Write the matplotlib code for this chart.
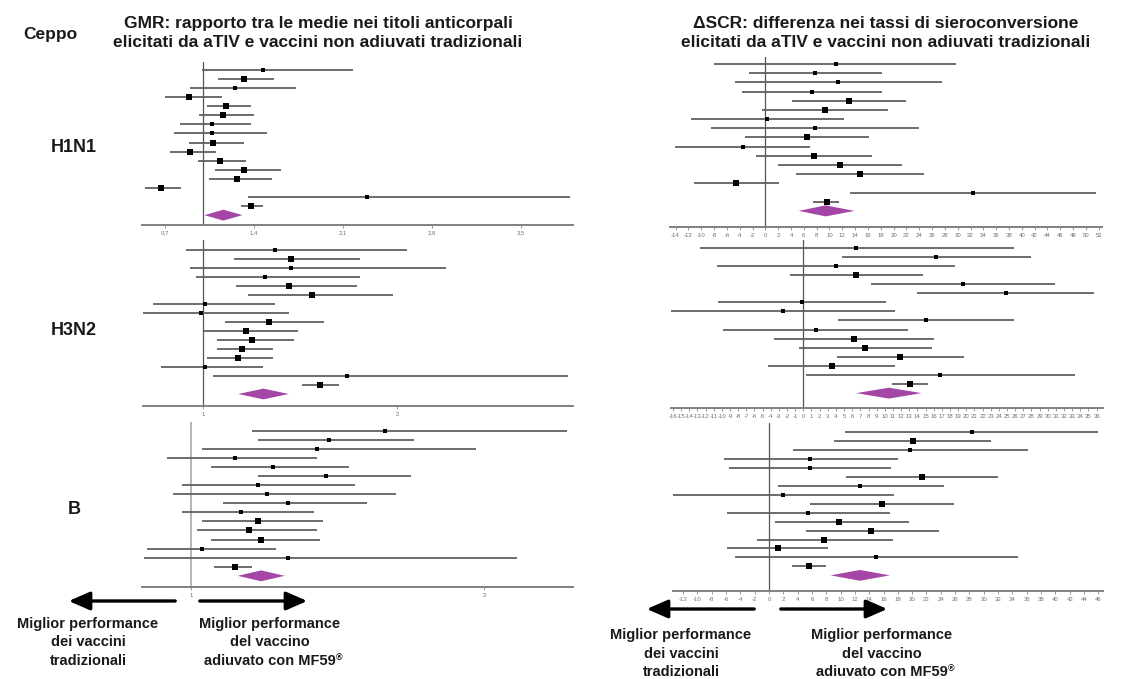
import matplotlib
matplotlib.use("Agg")
import matplotlib.pyplot as plt
from matplotlib.text import Annotation
import numpy as np

plt.rcParams['font.family'] = ['Liberation Sans', 'DejaVu Sans']

# ---- data: 15 studies + pooled estimate (lo, point, hi) and diamond (lo, centre, hi)
# H1N1 - GMR
h1_gmr_lo = [0.99, 1.12, 0.90, 0.70, 1.03, 0.97, 0.82, 0.77, 0.89, 0.74, 0.96, 1.09, 1.05, 0.54, 1.35, 1.30]
h1_gmr_pt = [1.47, 1.32, 1.25, 0.89, 1.18, 1.16, 1.07, 1.07, 1.08, 0.90, 1.13, 1.32, 1.27, 0.67, 2.29, 1.38]
h1_gmr_hi = [2.18, 1.56, 1.73, 1.15, 1.38, 1.40, 1.38, 1.50, 1.32, 1.10, 1.34, 1.61, 1.54, 0.83, 3.89, 1.47]
h1_gmr_w = [1, 2, 1, 2, 2, 2, 1, 1, 2, 2, 2, 2, 2, 2, 1, 3]
h1_gmr_dia = [1.01, 1.16, 1.31]
# H1N1 - delta SCR
h1_scr_lo = [-8.0, -2.6, -4.7, -3.6, 4.1, -0.5, -11.6, -8.5, -3.2, -14.1, -1.4, 2.0, 4.8, -11.1, 13.2, 7.4]
h1_scr_pt = [11.0, 7.8, 11.4, 7.2, 13.0, 9.3, 0.3, 7.8, 6.5, -3.5, 7.6, 11.7, 14.7, -4.5, 32.4, 9.6]
h1_scr_hi = [29.8, 18.2, 27.5, 18.2, 21.9, 19.1, 12.2, 23.9, 16.2, 7.0, 16.6, 21.3, 24.7, 2.1, 51.5, 11.5]
h1_scr_w = [1, 1, 1, 1, 2, 2, 1, 1, 2, 1, 2, 2, 2, 2, 1, 3]
h1_scr_dia = [5.2, 9.4, 13.9]
# H3N2 - GMR
h3_gmr_lo = [0.91, 1.16, 0.93, 0.96, 1.17, 1.23, 0.74, 0.68, 1.11, 1.00, 1.07, 1.07, 1.02, 0.78, 1.05, 1.51]
h3_gmr_pt = [1.37, 1.45, 1.45, 1.32, 1.44, 1.56, 1.01, 0.99, 1.34, 1.22, 1.25, 1.20, 1.18, 1.01, 1.74, 1.60]
h3_gmr_hi = [2.05, 1.81, 2.25, 1.81, 1.79, 1.98, 1.37, 1.44, 1.62, 1.49, 1.47, 1.36, 1.36, 1.31, 2.88, 1.70]
h3_gmr_w = [1, 2, 1, 1, 2, 2, 1, 1, 2, 2, 2, 2, 2, 1, 1, 3]
h3_gmr_dia = [1.18, 1.31, 1.44]
# H3N2 - delta SCR
h3_scr_lo = [-12.7, 4.7, -10.6, -1.6, 8.3, 14.0, -10.5, -16.2, 4.3, -9.8, -3.6, -0.5, 4.1, -4.3, 0.3, 10.9]
h3_scr_pt = [6.5, 16.3, 4.0, 6.5, 19.6, 24.9, -0.2, -2.5, 15.1, 1.5, 6.2, 7.6, 11.9, 3.5, 16.8, 13.1]
h3_scr_hi = [25.8, 27.9, 18.6, 14.7, 30.9, 35.7, 10.2, 11.3, 25.9, 12.8, 16.0, 15.8, 19.7, 11.3, 33.3, 15.3]
h3_scr_w = [1, 1, 1, 2, 1, 1, 1, 1, 1, 1, 2, 2, 2, 2, 1, 3]
h3_scr_dia = [6.5, 10.5, 14.5]
# B - GMR
b_gmr_lo = [1.21, 1.23, 1.04, 0.92, 1.07, 1.23, 0.97, 0.94, 1.11, 0.97, 1.04, 1.02, 1.07, 0.85, 0.84, 1.08]
b_gmr_pt = [1.66, 1.47, 1.43, 1.15, 1.28, 1.46, 1.23, 1.26, 1.33, 1.17, 1.23, 1.20, 1.24, 1.04, 1.33, 1.15]
b_gmr_hi = [2.28, 1.76, 1.97, 1.43, 1.54, 1.75, 1.56, 1.70, 1.60, 1.42, 1.45, 1.43, 1.44, 1.29, 2.11, 1.21]
b_gmr_w = [1, 1, 1, 1, 1, 1, 1, 1, 1, 1, 2, 2, 2, 1, 1, 3]
b_gmr_dia = [1.16, 1.24, 1.32]
# B - delta SCR
b_scr_lo = [10.6, 9.1, 3.3, -6.3, -5.6, 10.8, 1.2, -13.4, 5.8, -5.8, 0.9, 5.2, -1.7, -5.8, -4.7, 3.2]
b_scr_pt = [28.3, 20.1, 19.7, 5.8, 5.7, 21.4, 12.7, 2.0, 15.8, 5.4, 9.8, 14.3, 7.7, 1.3, 15.0, 5.6]
b_scr_hi = [46.0, 31.0, 36.2, 18.0, 17.1, 32.0, 24.4, 17.4, 25.9, 16.9, 19.5, 23.7, 17.3, 8.3, 34.8, 7.9]
b_scr_w = [1, 2, 1, 1, 1, 2, 1, 1, 2, 1, 2, 2, 2, 2, 1, 3]
b_scr_dia = [8.6, 12.7, 16.9]

gmr_ticks_h1 = [0.7, 1.4, 2.1, 2.8, 3.5]
gmr_ticks_h3 = [1, 2]
gmr_ticks_b = [1, 2]
scr_ticks_h1 = list(range(-14, 53, 2))
scr_ticks_h3 = list(range(-16, 37, 1))
scr_ticks_b = list(range(-12, 47, 2))

ceppi = ["H1N1", "H3N2", "B"]
left_cap = ["Miglior performance", "dei vaccini", "tradizionali"]
right_cap = ["Miglior performance", "del vaccino", "adiuvato con MF59"]

W, H = 1123, 679
fig = plt.figure(figsize=(W / 100, H / 100), dpi=100)
fig.patch.set_facecolor("white")

PURPLE = "#a346a6"
msize = {1: 2.7, 2: 3.9, 3: 5.0}


def forest(lo, pt, hi, w, dia, x0, x1, ytop, yaxis, row1, step, xlim, ticks,
           ref=0.0, refcol="#555555", refw=0.9):
    ax = fig.add_axes([x0 / W, 1 - yaxis / H, (x1 - x0) / W, (yaxis - ytop) / H])
    n = len(pt)
    rows = np.arange(1, n + 1)
    ax.axvline(ref, color=refcol, lw=refw, zorder=1)
    ax.hlines(rows, lo, hi, color="#606060", lw=1.3, zorder=2)
    for r, p, ww in zip(rows, pt, w):
        ax.plot(p, r, marker="s", color="black", ms=msize[ww], mew=0, zorder=3)
    yd = n + 1
    h = 0.6
    ax.fill([dia[0], dia[1], dia[2], dia[1]], [yd, yd - h, yd, yd + h],
            color=PURPLE, lw=0, zorder=3)
    ax.set_xlim(*xlim)
    ax.set_ylim(1 + (yaxis - row1) / step, 1 + (ytop - row1) / step)
    for s in ["top", "right", "left"]:
        ax.spines[s].set_visible(False)
    ax.spines["bottom"].set_color("#808080")
    ax.spines["bottom"].set_linewidth(1.4)
    ax.set_yticks([])
    ax.set_xticks(ticks)
    ax.set_xticklabels([str(t).replace(".", ",") for t in ticks])
    ax.tick_params(axis="x", labelsize=4.3, colors="#707070", length=2, width=0.5, pad=2)
    return ax


# left column (GMR)
forest(h1_gmr_lo, h1_gmr_pt, h1_gmr_hi, h1_gmr_w, h1_gmr_dia, 142, 573, 62, 225, 70, 9.07,
       (0.519, 3.913), gmr_ticks_h1, ref=1.0)
forest(h3_gmr_lo, h3_gmr_pt, h3_gmr_hi, h3_gmr_w, h3_gmr_dia, 143, 573, 240, 406, 250.3, 8.98,
       (0.689, 2.906), gmr_ticks_h3, ref=1.0)
forest(b_gmr_lo, b_gmr_pt, b_gmr_hi, b_gmr_w, b_gmr_dia, 142, 573, 422, 587, 430.7, 9.07,
       (0.834, 2.302), gmr_ticks_b, ref=1.0, refcol="#b0b0b0", refw=1.3)
# right column (delta SCR)
forest(h1_scr_lo, h1_scr_pt, h1_scr_hi, h1_scr_w, h1_scr_dia, 670, 1102, 57, 227, 64, 9.18,
       (-14.87, 52.5), scr_ticks_h1)
forest(h3_scr_lo, h3_scr_pt, h3_scr_hi, h3_scr_w, h3_scr_dia, 671, 1103, 240, 408, 247.7, 9.09,
       (-16.24, 36.78), scr_ticks_h3)
forest(b_scr_lo, b_scr_pt, b_scr_hi, b_scr_w, b_scr_dia, 673, 1103, 423, 591, 432, 8.96,
       (-13.4, 46.65), scr_ticks_b)

# headings
def ftext(x, y, s, **kw):
    return fig.text(x / W, 1 - y / H, s, ha="center", va="center", fontweight="bold",
                    color="#1a1a1a", **kw)

ftext(50, 35, "Ceppo", fontsize=12.5)
ftext(318, 33, "GMR: rapporto tra le medie nei titoli anticorpali\n"
               "elicitati da aTIV e vaccini non adiuvati tradizionali",
      fontsize=12.5, linespacing=1.3)
ftext(886, 33, "\u0394SCR: differenza nei tassi di sieroconversione\n"
               "elicitati da aTIV e vaccini non adiuvati tradizionali",
      fontsize=12.5, linespacing=1.3)
for lab, yy in zip(ceppi, [148, 330, 510]):
    ftext(74, yy, lab, fontsize=13)

# arrows and captions
def arrow(xa, xb, y):
    fig.patches.append(matplotlib.patches.FancyArrowPatch(
        (xa / W, 1 - y / H), (xb / W, 1 - y / H), transform=fig.transFigure,
        arrowstyle="-|>,head_length=8,head_width=3.5", mutation_scale=1.6,
        lw=2.4, color="black"))


def caption(xc, y0, lines, reg=False):
    t = None
    for i, s in enumerate(lines):
        t = ftext(xc, y0 + i * 18.5, s, fontsize=10.5)
    if reg:
        fig.add_artist(Annotation("\u00ae", xy=(1, 1.05), xycoords=t, ha="left", va="top",
                                  fontsize=6.5, fontweight="bold", color="#1a1a1a"))


arrow(178, 66, 601)
arrow(197, 310, 601)
arrow(757, 644, 609)
arrow(778, 890, 609)

caption(88, 624, left_cap)
caption(270, 624, right_cap, reg=True)
caption(681, 635, left_cap)
caption(882, 635, right_cap, reg=True)

fig.savefig("out.png", dpi=100)
